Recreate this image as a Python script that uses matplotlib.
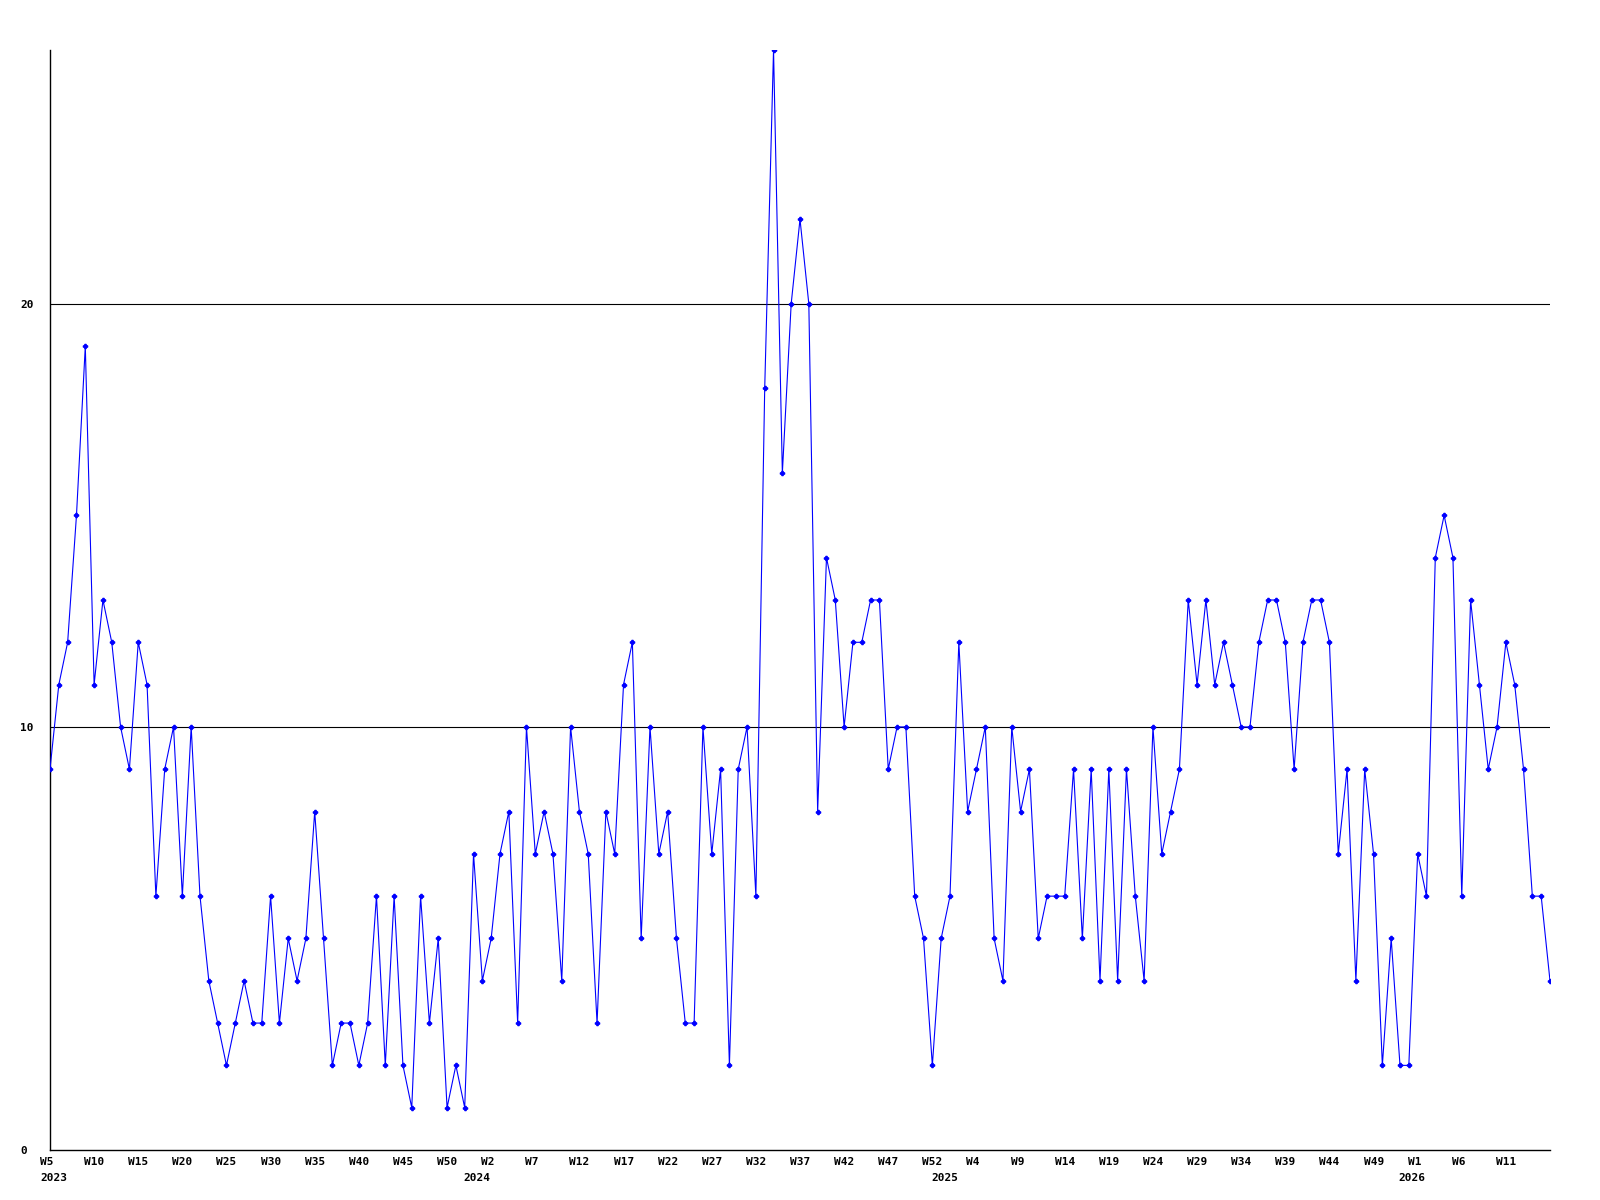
import matplotlib
matplotlib.use("Agg")
import matplotlib.pyplot as plt
import matplotlib.transforms as mtransforms

# weekly counts, 2023 W5 .. 2026 W16 (one point per week)
values = [
    9, 11, 12, 15, 19, 11, 13, 12, 10, 9,
    12, 11, 6, 9, 10, 6, 10, 6, 4, 3,
    2, 3, 4, 3, 3, 6, 3, 5, 4, 5,
    8, 5, 2, 3, 3, 2, 3, 6, 2, 6,
    2, 1, 6, 3, 5, 1, 2, 1, 7, 4,
    5, 7, 8, 3, 10, 7, 8, 7, 4, 10,
    8, 7, 3, 8, 7, 11, 12, 5, 10, 7,
    8, 5, 3, 3, 10, 7, 9, 2, 9, 10,
    6, 18, 26, 16, 20, 22, 20, 8, 14, 13,
    10, 12, 12, 13, 13, 9, 10, 10, 6, 5,
    2, 5, 6, 12, 8, 9, 10, 5, 4, 10,
    8, 9, 5, 6, 6, 6, 9, 5, 9, 4,
    9, 4, 9, 6, 4, 10, 7, 8, 9, 13,
    11, 13, 11, 12, 11, 10, 10, 12, 13, 13,
    12, 9, 12, 13, 13, 12, 7, 9, 4, 9,
    7, 2, 5, 2, 2, 7, 6, 14, 15, 14,
    6, 13, 11, 9, 10, 12, 11, 9, 6, 6,
    4,
]

# a label on every 5th week
week_labels = [
    "W5", "W10", "W15", "W20", "W25", "W30", "W35", "W40", "W45", "W50",
    "W2", "W7", "W12", "W17", "W22", "W27", "W32", "W37", "W42", "W47",
    "W52", "W4", "W9", "W14", "W19", "W24", "W29", "W34", "W39", "W44",
    "W49", "W1", "W6", "W11",
]
years = ["2023", "2024", "2025", "2026"]
year_first_week = [0, 48, 101, 154]   # index of first week of each year

y_ticks = [0, 10, 20]

fig = plt.figure(figsize=(16, 12), dpi=100)
ax = fig.add_axes([50 / 1600, 50 / 1200, 1500 / 1600, 1100 / 1200])

x = list(range(len(values)))
ax.plot(x, values, color="#0000ff", lw=0.8, marker="P", ms=3,
        mec="#0000ff", mfc="#0000ff", zorder=3)

ax.set_xlim(0, len(values) - 1)
ax.set_ylim(0, 26)

for v in y_ticks[1:]:
    ax.axhline(v, color="black", lw=0.8, zorder=1)

for s in ("top", "right"):
    ax.spines[s].set_visible(False)
for s in ("left", "bottom"):
    ax.spines[s].set_linewidth(1.0)
    ax.spines[s].set_color("black")

font = dict(family="DejaVu Sans Mono", weight="bold", size=8)

ax.set_yticks(y_ticks)
ax.set_yticklabels([str(v) for v in y_ticks], **font)
ax.tick_params(axis="y", length=0, pad=21.6)
for lab in ax.get_yticklabels():
    lab.set_horizontalalignment("left")

ax.set_xticks(range(0, 5 * len(week_labels), 5))
ax.set_xticklabels(week_labels, **font)
ax.tick_params(axis="x", length=0, pad=5)
shift = mtransforms.ScaledTranslation(-10 / 100, 0, fig.dpi_scale_trans)
for lab in ax.get_xticklabels():
    lab.set_horizontalalignment("left")
    lab.set_transform(lab.get_transform() + shift)

for yr, i in zip(years, year_first_week):
    ax.annotate(yr, xy=(i, 0), xycoords=("data", "axes fraction"),
                xytext=(-7.2, -20.5), textcoords="offset points",
                ha="left", va="center", **font)

fig.savefig("out.png", dpi=100)
